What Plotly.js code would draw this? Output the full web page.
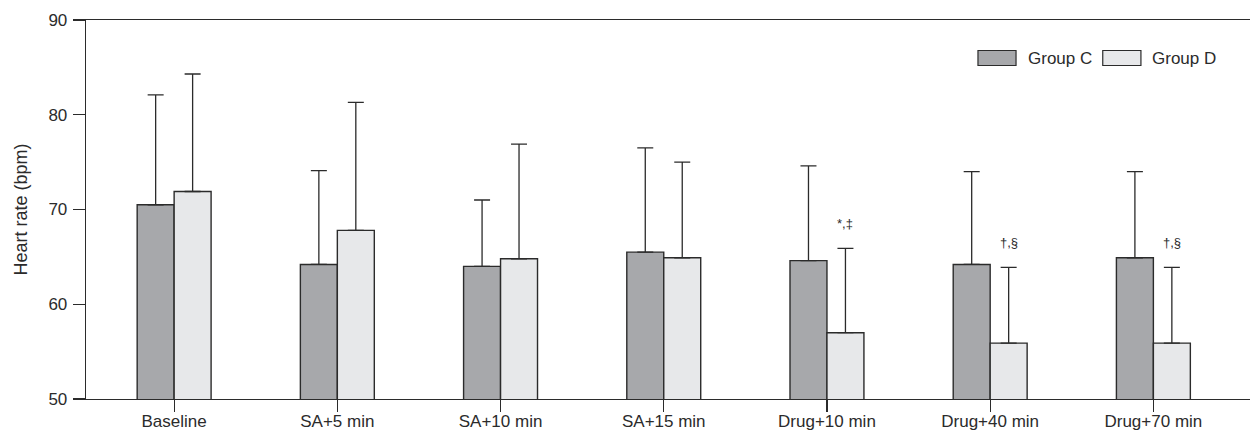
<!DOCTYPE html>
<html>
<head>
<meta charset="utf-8">
<script src="https://cdn.plot.ly/plotly-3.0.1.min.js"></script>
<style>html,body{margin:0;padding:0;background:#fff;}#chart{width:1252px;height:439px;}</style>
</head>
<body>
<div id="chart"></div>
<script>
const categories = ['Baseline', 'SA+5 min', 'SA+10 min', 'SA+15 min', 'Drug+10 min', 'Drug+40 min', 'Drug+70 min'];
const groupCMean = [70.5, 64.2, 64.0, 65.5, 64.6, 64.2, 64.9];
const groupCSD   = [11.6, 9.9, 7.0, 11.0, 10.0, 9.8, 9.1];
const groupDMean = [71.9, 67.8, 64.8, 64.9, 57.0, 55.9, 55.9];
const groupDSD   = [12.4, 13.5, 12.1, 10.1, 8.9, 8.0, 8.0];
const significance = ['', '', '', '', '*,\u2021', '\u2020,\u00a7', '\u2020,\u00a7'];
const seriesNames = ['Group C', 'Group D'];
const yTicks = [50, 60, 70, 80, 90];

const FONT = '"Liberation Sans", Arial, sans-serif';
const INK = '#2b2b2b';
const colC = '#a7a8ab';
const colD = '#e7e8ea';

function barTrace(name, y, sd, color) {
  return {
    type: 'bar', name: name, x: categories, y: y,
    base: 0,
    marker: {color: color, line: {color: INK, width: 1.4}},
    error_y: {type: 'data', array: sd, symmetric: false, arrayminus: sd.map(() => 0),
              color: INK, thickness: 1.3, width: 8},
    showlegend: false, hoverinfo: 'skip'
  };
}

const traces = [
  barTrace(seriesNames[0], groupCMean, groupCSD, colC),
  barTrace(seriesNames[1], groupDMean, groupDSD, colD)
];

const annotations = [];
categories.forEach((c, i) => {
  if (significance[i]) {
    annotations.push({
      x: c, xref: 'x', y: groupDMean[i] + groupDSD[i], yref: 'y',
      text: significance[i], showarrow: false, xanchor: 'center', yanchor: 'bottom',
      xshift: 18.5, yshift: 15,
      font: {family: FONT, size: 13, color: INK}
    });
  }
});
// legend text
annotations.push({x: 0.8073, y: 0.8997, xref: 'paper', yref: 'paper', text: seriesNames[0], showarrow: false,
  xanchor: 'left', yanchor: 'middle', font: {family: FONT, size: 17, color: INK}});
annotations.push({x: 0.9141, y: 0.8997, xref: 'paper', yref: 'paper', text: seriesNames[1], showarrow: false,
  xanchor: 'left', yanchor: 'middle', font: {family: FONT, size: 17, color: INK}});

const shapes = [
  {type: 'rect', xref: 'paper', yref: 'paper', x0: 0.7663, x1: 0.799, y0: 0.88, y1: 0.9195,
   fillcolor: colC, line: {color: INK, width: 1.2}},
  {type: 'rect', xref: 'paper', yref: 'paper', x0: 0.8735, x1: 0.9063, y0: 0.88, y1: 0.9195,
   fillcolor: colD, line: {color: INK, width: 1.2}}
];

const layout = {
  width: 1252, height: 439,
  margin: {l: 86, r: 2, t: 19.5, b: 39.5},
  paper_bgcolor: '#fff', plot_bgcolor: '#fff',
  barmode: 'group', bargap: 0.547, bargroupgap: 0,
  font: {family: FONT, color: INK, size: 17},
  xaxis: {
    type: 'category', range: [-0.54, 6.592],
    showline: true, linecolor: INK, linewidth: 1.3, mirror: true,
    ticks: 'outside', ticklen: 12, tickwidth: 1.2, tickcolor: INK,
    ticklabelstandoff: -6,
    showgrid: false, zeroline: false,
    tickfont: {family: FONT, size: 17, color: INK}
  },
  yaxis: {
    range: [50, 90], tickvals: yTicks, ticktext: yTicks.map(String),
    showline: true, linecolor: INK, linewidth: 1.3,
    ticks: 'outside', ticklen: 12, tickwidth: 1.2, tickcolor: INK,
    ticklabelstandoff: 2,
    showgrid: false, zeroline: false,
    tickfont: {family: FONT, size: 17, color: INK},
    title: {text: 'Heart rate (bpm)', font: {family: FONT, size: 18, color: INK}, standoff: 16}
  },
  annotations: annotations,
  shapes: shapes,
  showlegend: false
};

Plotly.newPlot('chart', traces, layout, {displayModeBar: false, staticPlot: true});
</script>
</body>
</html>
